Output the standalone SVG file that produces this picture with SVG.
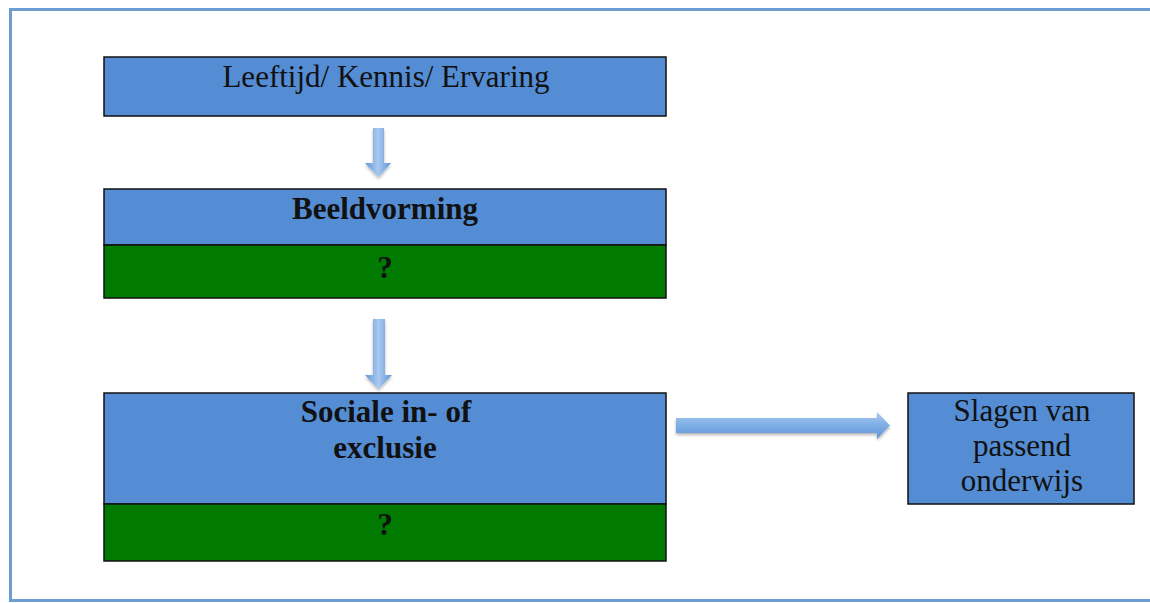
<svg xmlns="http://www.w3.org/2000/svg" width="1150" height="603" viewBox="0 0 1150 603">
<defs>
<linearGradient id="gv" x1="0" y1="0" x2="1" y2="0">
<stop offset="0" stop-color="#5d95d8"/><stop offset="0.5" stop-color="#a9c9f0"/><stop offset="1" stop-color="#5d95d8"/>
</linearGradient>
<linearGradient id="gh" x1="0" y1="0" x2="0" y2="1">
<stop offset="0" stop-color="#a9c9f0"/><stop offset="0.5" stop-color="#7eaee6"/><stop offset="1" stop-color="#5d95d8"/>
</linearGradient>
<filter id="sh" x="-20%" y="-20%" width="140%" height="160%">
<feGaussianBlur in="SourceAlpha" stdDeviation="1.5"/><feOffset dy="2"/><feComponentTransfer><feFuncA type="linear" slope="0.3"/></feComponentTransfer>
<feMerge><feMergeNode/><feMergeNode in="SourceGraphic"/></feMerge>
</filter>
</defs>
<style>
.b{fill:#548dd4;stroke:#111;stroke-width:1.5}
.g{fill:#007a00;stroke:#111;stroke-width:1.5}
.t{font-family:"Liberation Serif","Times New Roman",serif;font-size:31px;fill:#111;text-anchor:middle}
.bd{font-weight:bold}
</style>
<rect x="10.5" y="9.5" width="1145" height="591" fill="#fff" stroke="#6b9dd3" stroke-width="3"/>
<g id="n1">
<rect class="b" x="104" y="57" width="562" height="59"/>
<text class="t" x="386" y="87">Leeftijd/ Kennis/ Ervaring</text>
</g>
<g id="n2">
<rect class="b" x="104" y="189" width="562" height="56"/>
<rect class="g" x="104" y="245" width="562" height="53"/>
<text class="t bd" x="385" y="219">Beeldvorming</text>
<text class="t bd" x="385" y="278">?</text>
</g>
<g id="n3">
<rect class="b" x="104" y="393" width="562" height="111"/>
<rect class="g" x="104" y="504" width="562" height="57"/>
<text class="t bd" x="386" y="422">Sociale in- of</text>
<text class="t bd" x="385" y="458">exclusie</text>
<text class="t bd" x="385" y="535">?</text>
</g>
<g id="n4">
<rect class="b" x="908" y="393" width="226" height="111"/>
<text class="t" x="1022" y="421">Slagen van</text>
<text class="t" x="1022" y="456">passend</text>
<text class="t" x="1022" y="491">onderwijs</text>
</g>
<g id="connectors" filter="url(#sh)">
<path d="M373,128 H384 V163 H391 L378.5,177 L365,163 H373 Z" fill="url(#gv)"/>
<path d="M373,319 H385 V375 H392 L378.5,389 L365,375 H373 Z" fill="url(#gv)"/>
<path d="M676,418 H877 V412 L890,425.5 L877,439 V433 H676 Z" fill="url(#gh)"/>
</g>
</svg>
